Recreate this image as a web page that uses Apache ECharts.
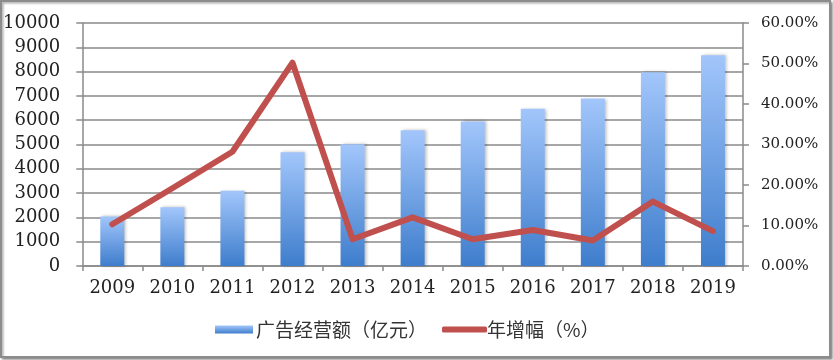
<!DOCTYPE html>
<html>
<head>
<meta charset="utf-8">
<script src="https://cdn.jsdelivr.net/npm/echarts@6/dist/echarts.min.js"></script>
<style>
html,body{margin:0;padding:0;background:#fff;}
#c{width:833px;height:360px;}
</style>
</head>
<body>
<div id="c"></div>
<script>
const categories = ['2009','2010','2011','2012','2013','2014','2015','2016','2017','2018','2019'];
const adRevenue = [2041, 2420, 3100, 4680, 5010, 5590, 5950, 6470, 6890, 7970, 8670];
const growthPct = [10.3, 19.2, 28.2, 50.2, 6.6, 12.0, 6.6, 8.9, 6.3, 15.9, 8.6];
const barName = '广告经营额（亿元）';
const lineName = '年增幅（%）';
const leftMax = 10000, leftInterval = 1000;
const rightMax = 60, rightInterval = 10;

const chart = echarts.init(document.getElementById('c'), null, {renderer:'canvas'});
const numFont = 'DejaVu Serif';
const axisColor = '#8a8a8a';
const labelColor = '#222';
chart.setOption({
  animation: false,
  backgroundColor: '#fff',
  graphic: [{
    type: 'rect', z: -1,
    shape: {x: 1, y: 1, width: 829, height: 356},
    style: {fill: '#fff', stroke: '#8c8c8c', lineWidth: 2,
      shadowColor: 'rgba(0,0,0,0.35)', shadowBlur: 2, shadowOffsetX: 1.5, shadowOffsetY: 1.5}
  }],
  grid: {left: 79, right: 90, top: 23, bottom: 94},
  legend: [{
    data: [{name: barName, icon: 'rect'}],
    left: 210, top: 315, itemWidth: 38, itemHeight: 8, itemGap: 4,
    textStyle: {fontFamily: 'Noto Sans CJK SC', fontSize: 19, color: '#333', padding: [0,0,0,-2]}
  }, {
    data: [{name: lineName, icon: 'roundRect', itemStyle: {color: '#c0504d'}}],
    left: 437, top: 315, itemWidth: 45, itemHeight: 6,
    textStyle: {fontFamily: 'Noto Sans CJK SC', fontSize: 19, color: '#333', padding: [0,0,0,-5]}
  }],
  xAxis: {
    type: 'category', data: categories, boundaryGap: true,
    axisLine: {lineStyle: {color: axisColor, width: 1.5}},
    axisTick: {show: true, length: 5, lineStyle: {color: axisColor, width: 1.5}},
    axisLabel: {fontFamily: numFont, fontSize: 18, color: labelColor, margin: 13}
  },
  yAxis: [{
    type: 'value', min: 0, max: leftMax, interval: leftInterval,
    axisLine: {show: true, lineStyle: {color: axisColor, width: 1.5}},
    axisTick: {show: true, length: 6, lineStyle: {color: axisColor, width: 1.5}},
    axisLabel: {fontFamily: numFont, fontSize: 18, color: labelColor, margin: 22,
      formatter: v => String(v)},
    splitLine: {lineStyle: {color: axisColor, width: 1.5}}
  }, {
    type: 'value', min: 0, max: rightMax, interval: rightInterval, position: 'right',
    axisLine: {show: true, lineStyle: {color: axisColor, width: 1.5}},
    axisTick: {show: true, length: 6, lineStyle: {color: axisColor, width: 1.5}},
    axisLabel: {fontFamily: numFont, fontSize: 15, color: labelColor, margin: 18, align: 'left',
      formatter: v => v.toFixed(2) + '%'},
    splitLine: {show: false}
  }],
  series: [{
    name: barName, type: 'bar', data: adRevenue, barWidth: 24,
    itemStyle: {
      color: new echarts.graphic.LinearGradient(0,0,0,1,[
        {offset: 0, color: '#a2c6fb'}, {offset: 1, color: '#3e7dcc'}]),
      shadowColor: 'rgba(0,0,0,0.25)', shadowBlur: 3, shadowOffsetX: 2, shadowOffsetY: 0
    }
  }, {
    name: lineName, type: 'line', yAxisIndex: 1, data: growthPct,
    symbol: 'none', z: 5,
    lineStyle: {color: '#c0504d', width: 6, cap: 'round', join: 'round'},
    itemStyle: {color: '#c0504d'}
  }]
});
</script>
</body>
</html>
